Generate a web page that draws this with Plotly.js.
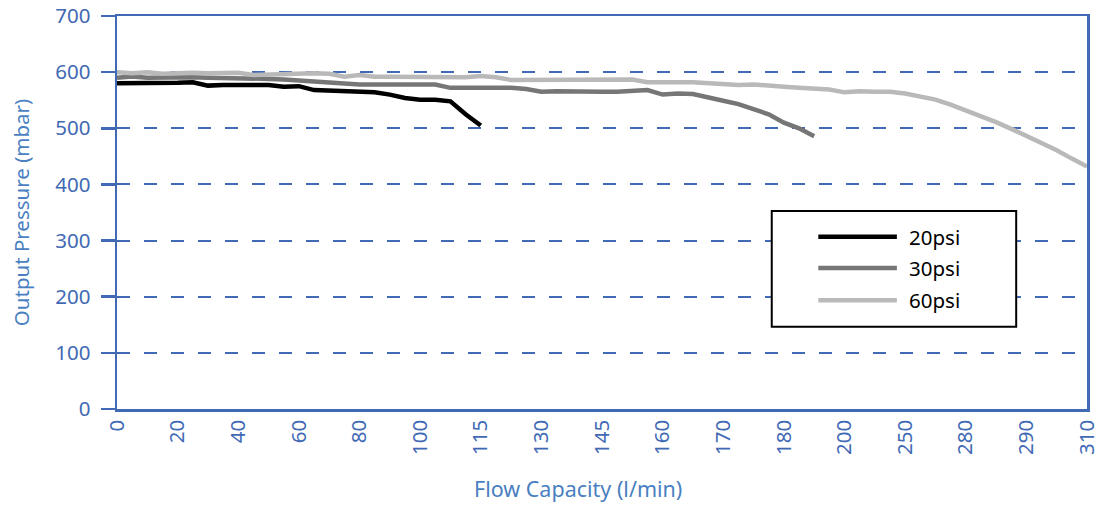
<!DOCTYPE html>
<html>
<head>
<meta charset="utf-8">
<script src="https://cdn.plot.ly/plotly-3.0.1.min.js"></script>
<style>html,body{margin:0;padding:0;background:#fff;}#chart{width:1099px;height:506px;}</style>
</head>
<body>
<div id="chart"></div>
<script>
// Category labels on the x axis (flow capacity, l/min)
const categories = ["0","20","40","60","80","100","115","130","145","160","170","180","200","250","280","290","310"];
// Points are sampled 4 per labelled category step
const pointsPerCategory = 4;

const seriesNames = ["20psi", "30psi", "60psi"];
const psi20 = [580,580,580,579,581,582,576,577,577,577,577,574,575,568,567,564,565,564,560,554,551,551,548,525,505];
const psi30 = [590,592,590,591,590,591,590,590,590,589,588,587,585,583,582,578,578,578,578,578,578,578,572,572,571,572,572,570,565,566,565,565,565,565,566,568,560,562,561,556,549,543,533,525,510,500,486];
const psi60 = [600,598,600,597,598,599,598,598,599,595,596,596,598,598,597,592,595,592,592,592,592,592,591,591,593,591,586,586,586,586,587,587,587,587,587,582,581,582,582,580,577,577,578,577,574,572,571,569,564,566,565,565,562,557,551,542,532,522,511,499,487,475,461,446,432];
const yTicks = [0,100,200,300,400,500,600,700];

const colors = ["#000000", "#767676", "#b9b9b9"];
const blue = "#4169b4";
const titleBlue = "#4a7fc1";
const font = "Noto Sans, Open Sans, sans-serif";

const allSeries = [psi20, psi30, psi60];
const traces = allSeries.map((ys, s) => ({
  type: "scatter",
  mode: "lines",
  name: seriesNames[s],
  x: ys.map((_, i) => i / pointsPerCategory),
  y: ys,
  line: {color: colors[s], width: 4.5},
  showlegend: false,
  hoverinfo: "x+y"
}));

// Manual legend (boxed, long line samples)
const legX0 = 0.675, legX1 = 0.927, legY0 = 0.209, legY1 = 0.504;
const rowY = [0.438, 0.359, 0.277];
const shapes = [{
  type: "rect", xref: "paper", yref: "paper",
  x0: legX0, x1: legX1, y0: legY0, y1: legY1,
  line: {color: "#000", width: 2}, fillcolor: "#fff"
}];
const annotations = [];
seriesNames.forEach((n, s) => {
  shapes.push({type: "line", xref: "paper", yref: "paper",
    x0: 0.723, x1: 0.804, y0: rowY[s], y1: rowY[s],
    line: {color: colors[s], width: 4.5}});
  annotations.push({xref: "paper", yref: "paper", x: 0.814, y: rowY[s],
    xanchor: "left", yanchor: "middle", showarrow: false, text: n,
    font: {family: font, size: 20.5, color: "#000"}});
});
annotations.push({xref: "paper", yref: "paper", x: 0.475, y: -0.16,
  xanchor: "center", yanchor: "top", showarrow: false,
  text: "Flow Capacity (l/min)", font: {family: font, size: 21.5, color: titleBlue}});

const layout = {
  width: 1099, height: 506,
  margin: {l: 117, r: 12, t: 16, b: 97},
  paper_bgcolor: "#fff", plot_bgcolor: "#fff",
  font: {family: font, size: 20, color: blue},
  showlegend: false,
  xaxis: {
    range: [0, categories.length - 1],
    tickmode: "array",
    tickvals: categories.map((_, i) => i),
    ticktext: categories,
    tickangle: -90,
    ticklabeloverflow: "allow",
    showgrid: false, zeroline: false,
    showline: true, linecolor: blue, linewidth: 2.5, mirror: true,
    ticks: "", ticklen: 0,
    tickfont: {family: font, size: 20.5, color: blue}
  },
  yaxis: {
    range: [0, 700],
    tickmode: "array", tickvals: yTicks,
    showgrid: true, gridcolor: blue, gridwidth: 2, griddash: "13px,14px",
    zeroline: false,
    showline: true, linecolor: blue, linewidth: 2.5, mirror: true,
    ticks: "outside", ticklen: 14, tickwidth: 2.5, tickcolor: blue,
    ticklabelstandoff: 6,
    tickfont: {family: font, size: 20.5, color: blue},
    title: {text: "Output Pressure (mbar)", standoff: 20, font: {family: font, size: 20.5, color: titleBlue}}
  },
  shapes: shapes,
  annotations: annotations
};

Plotly.newPlot("chart", traces, layout, {displayModeBar: false, staticPlot: true});
</script>
</body>
</html>
